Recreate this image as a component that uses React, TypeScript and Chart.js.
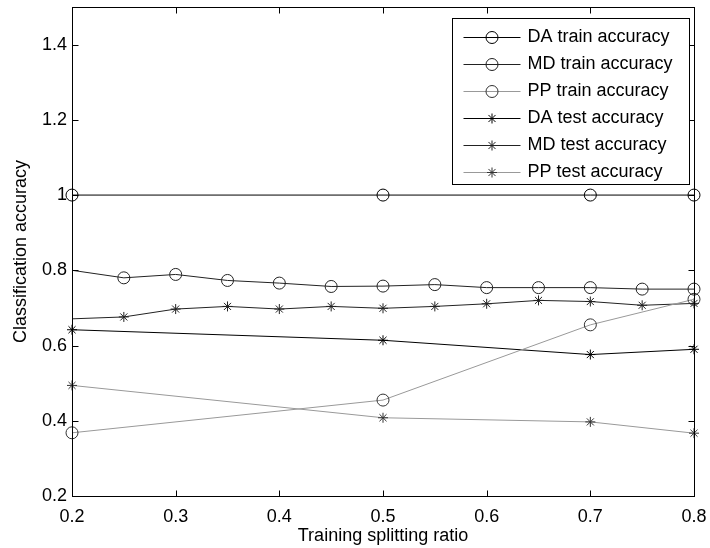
import React, { useEffect, useRef } from 'react';
import { Chart, registerables } from 'chart.js';

Chart.register(...registerables);

// ---------- data ----------
const X_TICKS = [0.2, 0.3, 0.4, 0.5, 0.6, 0.7, 0.8];
const X_TICK_LABELS = ['0.2', '0.3', '0.4', '0.5', '0.6', '0.7', '0.8'];
const Y_TICKS = [0.2, 0.4, 0.6, 0.8, 1.0, 1.2, 1.4];
const Y_TICK_LABELS = ['0.2', '0.4', '0.6', '0.8', '1', '1.2', '1.4'];

const RATIOS_SPARSE = [0.2, 0.5, 0.7, 0.8];
const RATIOS_DENSE = [0.2, 0.25, 0.3, 0.35, 0.4, 0.45, 0.5, 0.55, 0.6, 0.65, 0.7, 0.75, 0.8];

const DA_TRAIN = [1, 1, 1, 1];
const MD_TRAIN = [0.8, 0.78, 0.789, 0.773, 0.766, 0.757, 0.758, 0.762, 0.754, 0.754, 0.754, 0.75, 0.75];
const PP_TRAIN = [0.368, 0.455, 0.655, 0.723];
const DA_TEST = [0.642, 0.614, 0.576, 0.59];
const MD_TEST = [0.671, 0.676, 0.697, 0.704, 0.697, 0.704, 0.699, 0.704, 0.711, 0.72, 0.717, 0.707, 0.712];
const PP_TEST = [0.494, 0.408, 0.397, 0.367];

const SERIES_LABELS = [
  'DA train accuracy',
  'MD train accuracy',
  'PP train accuracy',
  'DA test accuracy',
  'MD test accuracy',
  'PP test accuracy',
];

const X_TITLE = 'Training splitting ratio';
const Y_TITLE = 'Classification accuracy';

const FONT_FAMILY = '"Liberation Sans", Arial, Helvetica, sans-serif';
const FONT_SIZE = 18;

const toXY = (xs: number[], ys: number[]) => xs.map((x, i) => ({ x, y: ys[i] }));

function drawMarker(ctx: CanvasRenderingContext2D, style: string, x: number, y: number, r: number) {
  ctx.beginPath();
  if (style === 'circle') {
    ctx.arc(x, y, r, 0, Math.PI * 2);
  } else {
    const d = r * Math.SQRT1_2;
    ctx.moveTo(x - r, y); ctx.lineTo(x + r, y);
    ctx.moveTo(x, y - r); ctx.lineTo(x, y + r);
    ctx.moveTo(x - d, y - d); ctx.lineTo(x + d, y + d);
    ctx.moveTo(x - d, y + d); ctx.lineTo(x + d, y - d);
  }
  ctx.stroke();
}

const frameAndLegend = {
  id: 'frameAndLegend',
  afterDraw(chart: any) {
    const ctx: CanvasRenderingContext2D = chart.ctx;
    const { left, right, top, bottom } = chart.chartArea;
    const L = Math.round(left) + 0.5;
    const R = Math.round(right) + 0.5;
    const T = Math.round(top) + 0.5;
    const B = Math.round(bottom) + 0.5;
    ctx.save();
    ctx.strokeStyle = '#000';
    ctx.lineWidth = 1;
    ctx.strokeRect(L, T, R - L, B - T);
    const tl = 6;
    const xs = chart.scales.x;
    const ys = chart.scales.y;
    ctx.beginPath();
    X_TICKS.forEach((v) => {
      const px = Math.round(xs.getPixelForValue(v)) + 0.5;
      ctx.moveTo(px, B); ctx.lineTo(px, B - tl);
      ctx.moveTo(px, T); ctx.lineTo(px, T + tl);
    });
    Y_TICKS.forEach((v) => {
      const py = Math.round(ys.getPixelForValue(v)) + 0.5;
      ctx.moveTo(L, py); ctx.lineTo(L + tl, py);
      ctx.moveTo(R, py); ctx.lineTo(R - tl, py);
    });
    ctx.stroke();

    // legend
    const boxR = R - 5;
    const boxL = boxR - 237;
    const boxT = T + 11;
    const boxB = boxT + 166;
    ctx.fillStyle = '#fff';
    ctx.fillRect(boxL, boxT, boxR - boxL, boxB - boxT);
    ctx.strokeStyle = '#000';
    ctx.strokeRect(boxL, boxT, boxR - boxL, boxB - boxT);
    ctx.font = `${FONT_SIZE}px ${FONT_FAMILY}`;
    ctx.textBaseline = 'middle';
    ctx.textAlign = 'left';
    chart.data.datasets.forEach((ds: any, i: number) => {
      const y = Math.round(boxT + 18 + i * 27) + 0.5;
      const x0 = boxL + 11;
      const x1 = boxL + 68;
      ctx.strokeStyle = ds.borderColor;
      ctx.lineWidth = 1;
      ctx.beginPath();
      ctx.moveTo(x0, y); ctx.lineTo(x1, y);
      ctx.stroke();
      ctx.strokeStyle = ds.pointBorderColor;
      drawMarker(ctx, ds.pointStyle, (x0 + x1) / 2, y, ds.pointStyle === 'circle' ? 6 : 5);
      ctx.fillStyle = '#000';
      ctx.fillText(ds.label, boxL + 75, y);
    });
    ctx.restore();
  },
};

export default function App() {
  const canvasRef = useRef<HTMLCanvasElement | null>(null);

  useEffect(() => {
    if (!canvasRef.current) return;
    Chart.defaults.font.family = FONT_FAMILY;
    Chart.defaults.font.size = FONT_SIZE;
    Chart.defaults.color = '#000';

    const mk = (label: string, xs: number[], ys: number[], line: string, marker: string, style: string, skipFirst: boolean) => ({
      label,
      data: toXY(xs, ys),
      borderColor: line,
      borderWidth: 1,
      pointStyle: style,
      pointBorderColor: marker,
      pointBackgroundColor: 'rgba(0,0,0,0)',
      pointBorderWidth: 1,
      pointRadius: (c: any) => (skipFirst && c.dataIndex === 0 ? 0 : style === 'circle' ? 6 : 5),
      pointHoverRadius: 0,
      fill: false,
      tension: 0,
      clip: false as any,
    });

    const chart = new Chart(canvasRef.current, {
      type: 'line',
      data: {
        datasets: [
          mk(SERIES_LABELS[0], RATIOS_SPARSE, DA_TRAIN, '#000', '#000', 'circle', false),
          mk(SERIES_LABELS[1], RATIOS_DENSE, MD_TRAIN, '#222', '#222', 'circle', true),
          mk(SERIES_LABELS[2], RATIOS_SPARSE, PP_TRAIN, '#999', '#333', 'circle', false),
          mk(SERIES_LABELS[3], RATIOS_SPARSE, DA_TEST, '#000', '#000', 'star', false),
          mk(SERIES_LABELS[4], RATIOS_DENSE, MD_TEST, '#222', '#222', 'star', true),
          mk(SERIES_LABELS[5], RATIOS_SPARSE, PP_TEST, '#999', '#333', 'star', false),
        ] as any,
      },
      options: {
        animation: false,
        responsive: false,
        maintainAspectRatio: false,
        events: [],
        layout: { padding: { top: 6, right: 16, left: 0, bottom: 0 } },
        plugins: { legend: { display: false }, tooltip: { enabled: false } },
        scales: {
          x: {
            type: 'linear',
            min: 0.2,
            max: 0.8,
            grid: { display: false, drawTicks: false },
            border: { display: false },
            afterBuildTicks: (s: any) => { s.ticks = X_TICKS.map((v) => ({ value: v })); },
            afterFit: (s: any) => { s.height = 52; s.paddingLeft = 0; s.paddingRight = 0; },
            ticks: {
              padding: 10,
              maxRotation: 0,
              autoSkip: false,
              callback: (v: any) => X_TICK_LABELS[X_TICKS.findIndex((t) => Math.abs(t - v) < 1e-9)] ?? '',
            },
            title: { display: true, text: X_TITLE, padding: { top: 0, bottom: 1 }, font: { size: FONT_SIZE } },
          },
          y: {
            type: 'linear',
            min: 0.2,
            max: 1.5,
            grid: { display: false, drawTicks: false },
            border: { display: false },
            afterBuildTicks: (s: any) => { s.ticks = Y_TICKS.map((v) => ({ value: v })); },
            afterFit: (s: any) => { s.width = 72; s.paddingTop = 0; s.paddingBottom = 0; },
            ticks: {
              padding: 5,
              autoSkip: false,
              callback: (v: any) => Y_TICK_LABELS[Y_TICKS.findIndex((t) => Math.abs(t - v) < 1e-9)] ?? '',
            },
            title: { display: true, text: Y_TITLE, padding: { top: 10, bottom: 0 }, font: { size: FONT_SIZE } },
          },
        },
      },
      plugins: [frameAndLegend],
    });
    return () => chart.destroy();
  }, []);

  return (
    <div style={{ position: 'fixed', left: 0, top: 0, width: 710, height: 548, background: '#fff' }}>
      <canvas ref={canvasRef} width={710} height={548} style={{ width: 710, height: 548, display: 'block' }} />
    </div>
  );
}
